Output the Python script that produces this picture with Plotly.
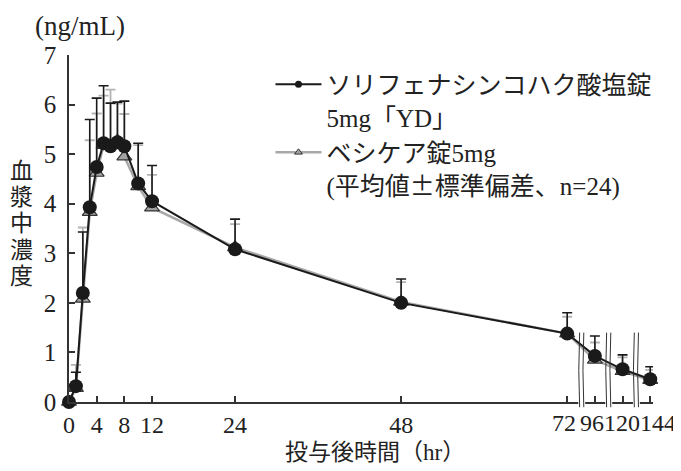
import plotly.graph_objects as go

# ---- data ----
times = [0, 1, 2, 3, 4, 5, 6, 7, 8, 10, 12, 24, 48, 72, 96, 120, 144]
yd_mean = [0, 0.32, 2.20, 3.93, 4.74, 5.22, 5.16, 5.24, 5.16, 4.41, 4.05, 3.08, 2.00, 1.38, 0.93, 0.66, 0.46]
yd_sd = [0, 0.28, 1.23, 1.77, 1.39, 1.16, 0.87, 0.81, 0.91, 0.81, 0.72, 0.61, 0.48, 0.42, 0.40, 0.29, 0.25]
ves_mean = [0, 0.28, 2.08, 3.83, 4.62, 5.18, 5.18, 5.27, 4.95, 4.35, 3.92, 3.12, 2.02, 1.38, 0.85, 0.62, 0.44]
ves_sd = [0, 0.47, 1.44, 1.45, 1.20, 1.00, 1.12, 0.75, 0.86, 0.83, 0.66, 0.47, 0.40, 0.34, 0.35, 0.28, 0.21]
x_ticks = [0, 4, 8, 12, 24, 48, 72, 96, 120, 144]
y_ticks = [0, 1, 2, 3, 4, 5, 6, 7]
name_yd = "ソリフェナシンコハク酸塩錠<br>5mg「YD」"
name_ves = ("ベシケア錠5mg<br>(平均値<span style=\"font-family:'Noto Sans CJK JP'\">±</span>"
            "標準偏差、n=24)")
y_title = "血漿中濃度"
x_title = "投与後時間（hr）"
unit_label = "(ng/mL)"

# broken axis: after 72 hr every 24 hr is compressed to 4 units
BREAK_AT = 72
COMPRESS = 6.0


def xm(t):
    return t if t <= BREAK_AT else BREAK_AT + (t - BREAK_AT) / COMPRESS


X_MAX = 84.4
FONT = "Liberation Serif, Noto Sans CJK JP"
AX = "#333333"
TXT = "#222222"

# page body has an 8px margin -> figure is 8px smaller
W, H = 673, 463
ML, MT, MR, MB = 61, 47, 28, 69
PW, PH = W - ML - MR, H - MT - MB

fig = go.Figure()

fig.add_trace(go.Scatter(
    x=[xm(t) for t in times], y=ves_mean, mode="lines+markers",
    line=dict(color="#a8a8a8", width=2.5),
    marker=dict(symbol="triangle-up", size=13, color="#a3a3a3",
                line=dict(color="#333333", width=1.2)),
    error_y=dict(type="data", symmetric=False, array=ves_sd,
                 arrayminus=[0] * len(ves_sd), color="#b3b3b3",
                 thickness=1.8, width=5),
    showlegend=False, cliponaxis=False))

fig.add_trace(go.Scatter(
    x=[xm(t) for t in times], y=yd_mean, mode="lines+markers",
    line=dict(color="#1a1a1a", width=2),
    marker=dict(symbol="circle", size=14, color="#1a1a1a"),
    error_y=dict(type="data", symmetric=False, array=yd_sd,
                 arrayminus=[0] * len(yd_sd), color="#1a1a1a",
                 thickness=1.6, width=5),
    showlegend=False, cliponaxis=False))

# legend entries
fig.add_trace(go.Scatter(
    x=[None], y=[None], mode="lines+markers", name=name_yd, legendgroup="a",
    line=dict(color="#1a1a1a", width=2),
    marker=dict(symbol="circle", size=7, color="#1a1a1a")))
fig.add_trace(go.Scatter(
    x=[None], y=[None], mode="lines+markers", name=name_ves, legendgroup="b",
    line=dict(color="#a8a8a8", width=2.5),
    marker=dict(symbol="triangle-up", size=7, color="#a3a3a3",
                line=dict(color="#333333", width=1))))

ticktext = [str(t) if t <= 48 else "" for t in x_ticks]

fig.update_layout(
    width=W, height=H,
    margin=dict(l=ML, r=MR, t=MT, b=MB),
    paper_bgcolor="white", plot_bgcolor="white",
    font=dict(family=FONT, size=24, color=TXT),
    xaxis=dict(range=[0, X_MAX], tickvals=[xm(t) for t in x_ticks],
               ticktext=ticktext, showgrid=False, zeroline=False,
               showline=True, linecolor=AX, linewidth=1.5,
               ticks="inside", ticklen=6, tickwidth=1.5, tickcolor=AX,
               tickfont=dict(family=FONT, size=24, color=TXT)),
    yaxis=dict(range=[0, 7], tickvals=y_ticks, showgrid=False,
               zeroline=False, showline=True, linecolor=AX, linewidth=1.5,
               ticks="inside", ticklen=6, tickwidth=1.5, tickcolor=AX,
               ticklabelstandoff=6,
               tickfont=dict(family=FONT, size=25, color=TXT)),
    legend=dict(x=0.345, y=0.981, xanchor="left", yanchor="top",
                font=dict(family=FONT, size=25, color=TXT),
                valign="top", tracegroupgap=0, itemwidth=46,
                bgcolor="rgba(0,0,0,0)"),
)

# x tick labels in the compressed region (shifted so they don't collide)
for t, dx in zip([72, 96, 120, 144], [-3, -3, -1, 8]):
    fig.add_annotation(x=xm(t), y=0, xref="x", yref="paper", text=str(t),
                       showarrow=False, xanchor="center", yanchor="top",
                       xshift=dx, yshift=-6,
                       font=dict(family=FONT, size=24, color=TXT))

# axis break marks
for c in [74.1, 78.0, 82.0]:
    pc = c / X_MAX
    half_gap = 0.5 / X_MAX
    fig.add_shape(type="rect", xref="paper", yref="paper",
                  x0=pc - half_gap, x1=pc + half_gap, y0=-0.012, y1=0.012,
                  fillcolor="white", line=dict(width=0), layer="above")
    for off in (-0.3, 0.3):
        px = (c + off) / X_MAX
        bow = 0.25 / X_MAX
        fig.add_shape(type="path", xref="paper", yref="paper",
                      path=f"M {px},{-0.015} Q {px - bow},{0.09} {px},{0.2}",
                      line=dict(color=AX, width=1), layer="above")


def to_paper(px, py):
    # px, py are positions in the 681x471 picture
    return (px - 8 - ML) / PW, (H - MB - (py - 8)) / PH


# titles
ux, uy = to_paper(80, 26)
fig.add_annotation(x=ux, y=uy, xref="paper", yref="paper", text=unit_label,
                   showarrow=False, xanchor="center", yanchor="middle",
                   font=dict(family=FONT, size=27, color=TXT))
for i, ch in enumerate(y_title):
    cx, cy = to_paper(21, 171 + i * 26.4)
    fig.add_annotation(x=cx, y=cy, xref="paper", yref="paper",
                       text=ch, showarrow=False, xanchor="center",
                       yanchor="middle",
                       font=dict(family=FONT, size=23, color=TXT))
tx, ty = to_paper(375, 452)
fig.add_annotation(x=tx, y=ty, xref="paper", yref="paper",
                   text=x_title, showarrow=False, xanchor="center",
                   yanchor="middle",
                   font=dict(family=FONT, size=23, color=TXT))

fig.write_html("out.html")
